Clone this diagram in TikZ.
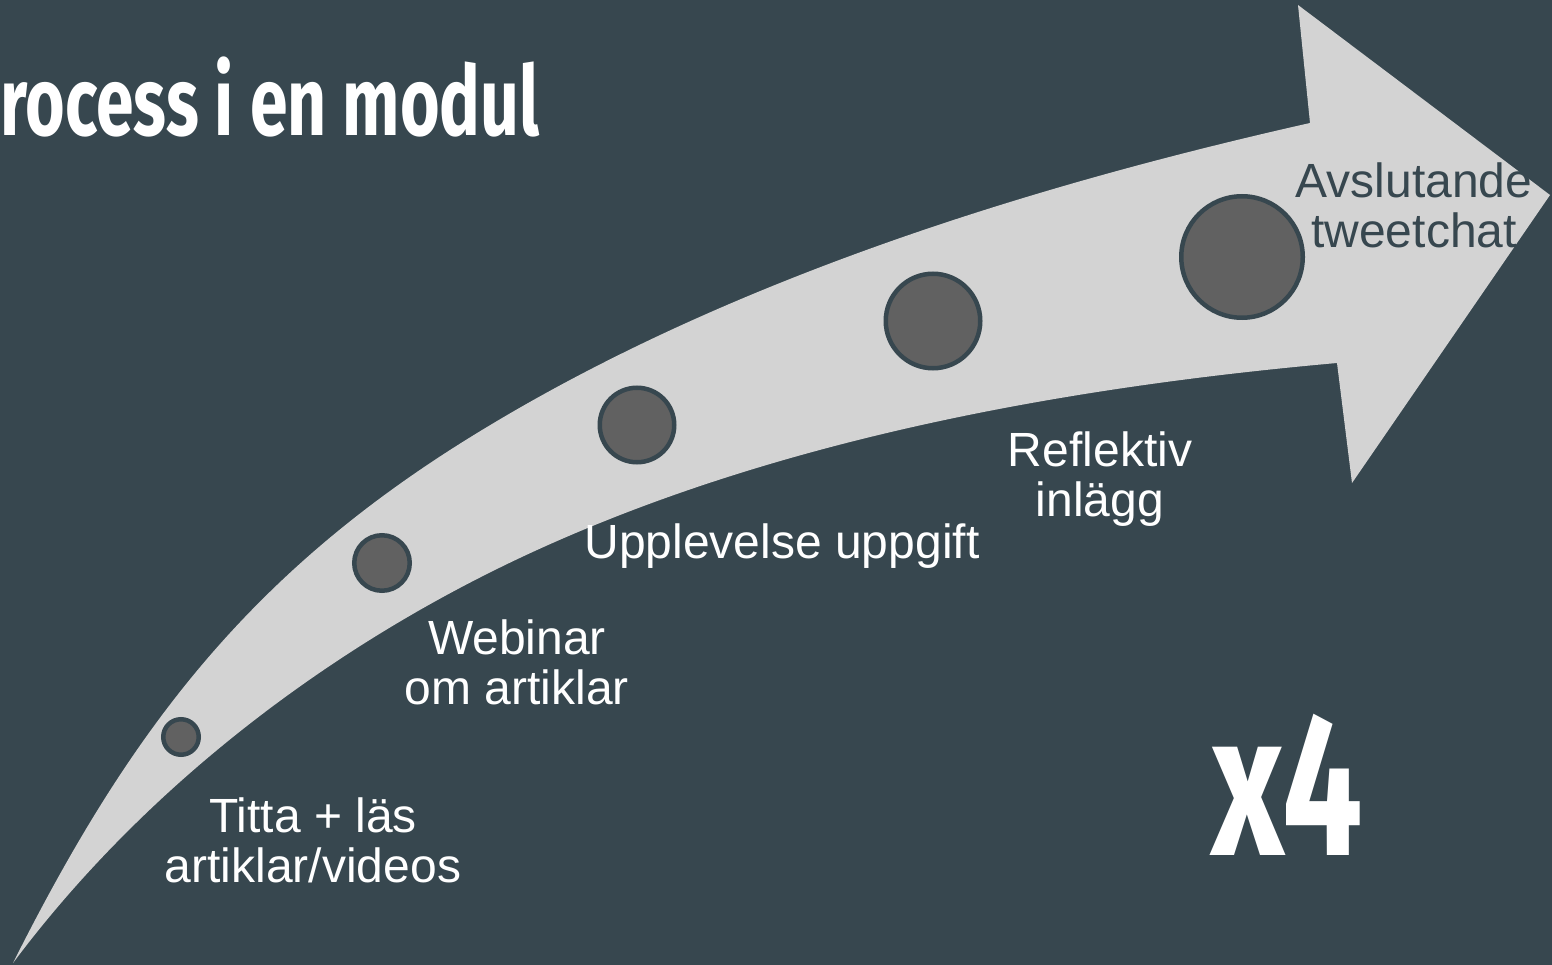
\documentclass[tikz,border=0pt]{standalone}
\usepackage{fontspec}
\setmainfont{Liberation Sans}
\newfontfamily\headfont[FakeStretch=0.7]{Fira Sans}
\usetikzlibrary{positioning}
\definecolor{slate}{HTML}{37474F}
\definecolor{bandgray}{HTML}{D3D3D3}
\definecolor{dotgray}{HTML}{616161}

\begin{document}
\begin{tikzpicture}[x=1pt, y=-1pt,
  dot/.style={circle, draw=slate, fill=dotgray, line width=4.5pt, inner sep=0pt},
  steplabel/.style={text=white, align=center, inner sep=0pt, anchor=base,
    font=\fontsize{48}{50}\selectfont},
  headtext/.style={text=white, inner sep=0pt, anchor=base west}]
  % bakgrund
  \fill[slate] (0,0) rectangle (1552,965);
  \useasboundingbox (0,0) rectangle (1552,965);

  % den böjda pilen: övre kant, pilhuvud, undre kant
  \fill[bandgray] (13,963) .. controls (125,740) and (240,585) .. (450,450)
    .. controls (703,288) and (1017,189) .. (1310,123)
    -- (1298,5) -- (1550,195) -- (1352,483) -- (1337,363)
    .. controls (1068,387) and (783,438) .. (537,550)
    .. controls (335,642) and (146,785) .. (13,963) -- cycle;

  % steg
  \node[dot, minimum size=35.5] (c1) at (181,737) {};
  \node[dot, minimum size=55.5] (c2) at (382,563) {};
  \node[dot, minimum size=74.5] (c3) at (637,425) {};
  \node[dot, minimum size=94.5] (c4) at (933,321) {};
  \node[dot, minimum size=121.5] (c5) at (1242,257) {};

  % texter (base = sista raden)
  \node[steplabel] (titta) at (313,882) {Titta + läs\\artiklar/videos};
  \node[steplabel] (webinar) at (517,704) {Webinar\\om artiklar};
  \node[steplabel] (upplevelse) at (782,558) {Upplevelse uppgift};
  \node[steplabel] (reflektiv) at (1100,516) {Reflektiv\\inlägg};
  \node[steplabel, text=slate] (avslutande) at (1414,248) {Avslutande\\tweetchat};

  \node[headtext, font=\headfont\bfseries\fontsize{97}{100}\selectfont] (title) at (0,136) {rocess i en modul};
  \node[headtext, font=\headfont\bfseries\fontsize{204}{210}\selectfont] (times) at (1211,855) {x4};
\end{tikzpicture}
\end{document}
